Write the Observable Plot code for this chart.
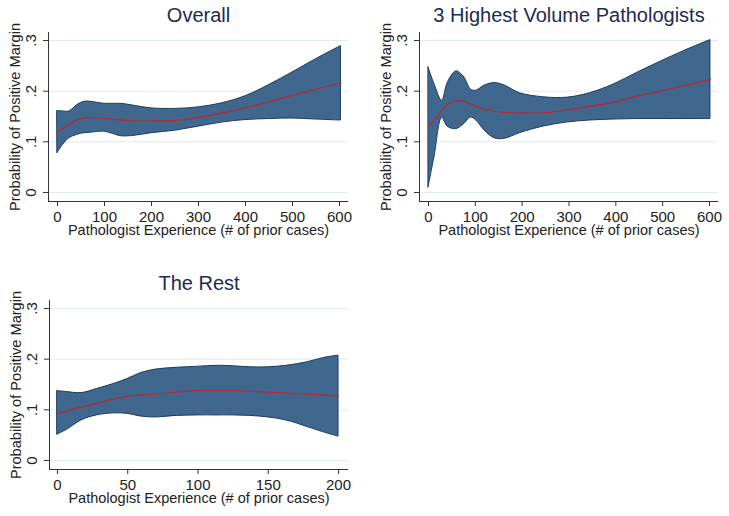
<!DOCTYPE html>
<html>
<head>
<meta charset="utf-8">
<script src="https://cdn.jsdelivr.net/npm/d3@7"></script>
<script src="https://cdn.jsdelivr.net/npm/@observablehq/plot@0.6"></script>
<style>
  html, body { margin: 0; padding: 0; background: #fff; }
  #wrap { position: relative; width: 729px; height: 516px; overflow: hidden; font-family: "Liberation Sans", Arial, sans-serif; }
  .panel { position: absolute; }
</style>
</head>
<body>
<div id="wrap"></div>
<script>
// ---- Data ----
const titles = ["Overall", "3 Highest Volume Pathologists", "The Rest"];
const yLabel = "Probability of Positive Margin";
const xLabel = "Pathologist Experience (# of prior cases)";
const yTicks = [0, 0.1, 0.2, 0.3];
const yTickLabels = ["0", ".1", ".2", ".3"];
const xTicksWide = [0, 100, 200, 300, 400, 500, 600];
const xTicksRest = [0, 50, 100, 150, 200];

// Overall
const overallX     = [0, 12, 25, 43, 57, 71, 100, 136, 164, 200, 250, 300, 350, 400, 450, 500, 550, 603];
const overallUpper = [.161, .160, .160, .173, .179, .179, .175, .175, .171, .166, .165, .168, .176, .190, .212, .237, .263, .289];
const overallLower = [.078, .094, .107, .114, .117, .118, .120, .111, .112, .117, .122, .130, .138, .143, .145, .146, .144, .142];
const overallFit   = [.120, .127, .135, .144, .147, .148, .146, .143, .141, .141, .142, .148, .157, .167, .179, .192, .204, .216];

// 3 Highest Volume Pathologists
const highX     = [0, 13, 29, 41, 59, 75, 91, 102, 120, 141, 163, 195, 245, 295, 345, 395, 445, 495, 545, 602];
const highUpper = [.247, .213, .181, .216, .239, .229, .203, .201, .211, .216, .211, .196, .188, .187, .196, .213, .236, .258, .279, .301];
const highLower = [.010, .071, .147, .130, .125, .134, .148, .142, .122, .107, .106, .117, .130, .138, .142, .144, .145, .145, .145, .145];
const highFit   = [.129, .143, .163, .174, .181, .180, .174, .170, .164, .160, .158, .157, .157, .163, .170, .178, .190, .200, .211, .223];

// The Rest
const restX     = [0, 7, 17, 28, 40, 50, 59, 69, 85, 100, 114, 125, 137, 150, 163, 178, 189, 200];
const restUpper = [.137, .135, .133, .141, .151, .161, .172, .179, .183, .185, .187, .186, .184, .184, .187, .194, .202, .207];
const restLower = [.051, .061, .079, .089, .093, .092, .087, .085, .088, .089, .089, .089, .088, .085, .079, .066, .056, .047];
const restFit   = [.093, .098, .105, .113, .121, .127, .129, .131, .135, .138, .138, .138, .137, .135, .133, .131, .129, .127];

// ---- Styling ----
const BAND = "#40688e";
const BAND_EDGE = "#1d3b5c";
const FIT = "#a8303c";
const GRID = "#e1ecf1";
const TITLE = "#1e2a52";
const INK = "#222";

function panel(opts) {
  const rows = opts.xs.map((x, i) => ({x, lo: opts.lower[i], hi: opts.upper[i], fit: opts.fit[i]}));
  const yDomain = [-0.0178, 0.3158];
  const chart = Plot.plot({
    width: opts.width,
    height: opts.height,
    marginLeft: opts.ml,
    marginRight: opts.mr,
    marginTop: opts.mt,
    marginBottom: opts.mb,
    style: {fontFamily: '"Liberation Sans", Arial, sans-serif', background: "#fff", color: INK},
    x: {domain: opts.xDomain},
    y: {domain: yDomain},
    marks: [
      Plot.ruleY(yTicks, {stroke: GRID, strokeWidth: 1}),
      Plot.areaY(rows, {x: "x", y1: "lo", y2: "hi", fill: BAND, stroke: BAND_EDGE, strokeWidth: 1, curve: "catmull-rom"}),
      Plot.lineY(rows, {x: "x", y: "fit", stroke: FIT, strokeWidth: 1.4, curve: "catmull-rom"}),
      Plot.ruleX([opts.xDomain[0]], {stroke: "#333", strokeWidth: 1}),
      Plot.ruleY([yDomain[0]], {stroke: "#333", strokeWidth: 1}),
      Plot.axisY({ticks: yTicks, tickSize: 5, tickFormat: () => "", label: null, stroke: "#333"}),
      Plot.text(yTicks, {y: d => d, text: (d, i) => yTickLabels[i], frameAnchor: "left", dx: -17, rotate: -90, textAnchor: "middle", lineAnchor: "middle", fontSize: 15, fill: INK}),
      Plot.axisX({ticks: opts.xTicks, tickSize: 5, tickPadding: 5, label: null, fontSize: 15, stroke: "#333", color: INK}),
      Plot.text([yLabel], {frameAnchor: "left", dx: -33.5, rotate: -90, textAnchor: "middle", lineAnchor: "middle", fontSize: 14.6, fill: INK}),
      Plot.text([xLabel], {frameAnchor: "bottom", dy: 29, textAnchor: "middle", lineAnchor: "middle", fontSize: 14.5, fill: INK}),
      Plot.text([opts.title], {frameAnchor: "top", dy: -16.5, textAnchor: "middle", lineAnchor: "middle", fontSize: 20, fill: TITLE})
    ]
  });
  const div = document.createElement("div");
  div.className = "panel";
  div.style.left = opts.left + "px";
  div.style.top = opts.top + "px";
  div.appendChild(chart);
  document.getElementById("wrap").appendChild(div);
}

panel({title: titles[0], xs: overallX, upper: overallUpper, lower: overallLower, fit: overallFit,
  xTicks: xTicksWide, xDomain: [-19.15, 619.15],
  left: 0, top: 0, width: 365, height: 250, ml: 48, mr: 17, mt: 32, mb: 49});

panel({title: titles[1], xs: highX, upper: highUpper, lower: highLower, fit: highFit,
  xTicks: xTicksWide, xDomain: [-19.2, 619.2],
  left: 365, top: 0, width: 364, height: 250, ml: 54, mr: 11, mt: 32, mb: 49});

panel({title: titles[2], xs: restX, upper: restUpper, lower: restLower, fit: restFit,
  xTicks: xTicksRest, xDomain: [-5.69, 207.1],
  left: 0, top: 260, width: 365, height: 256, ml: 49, mr: 17, mt: 40, mb: 47});
</script>
</body>
</html>
